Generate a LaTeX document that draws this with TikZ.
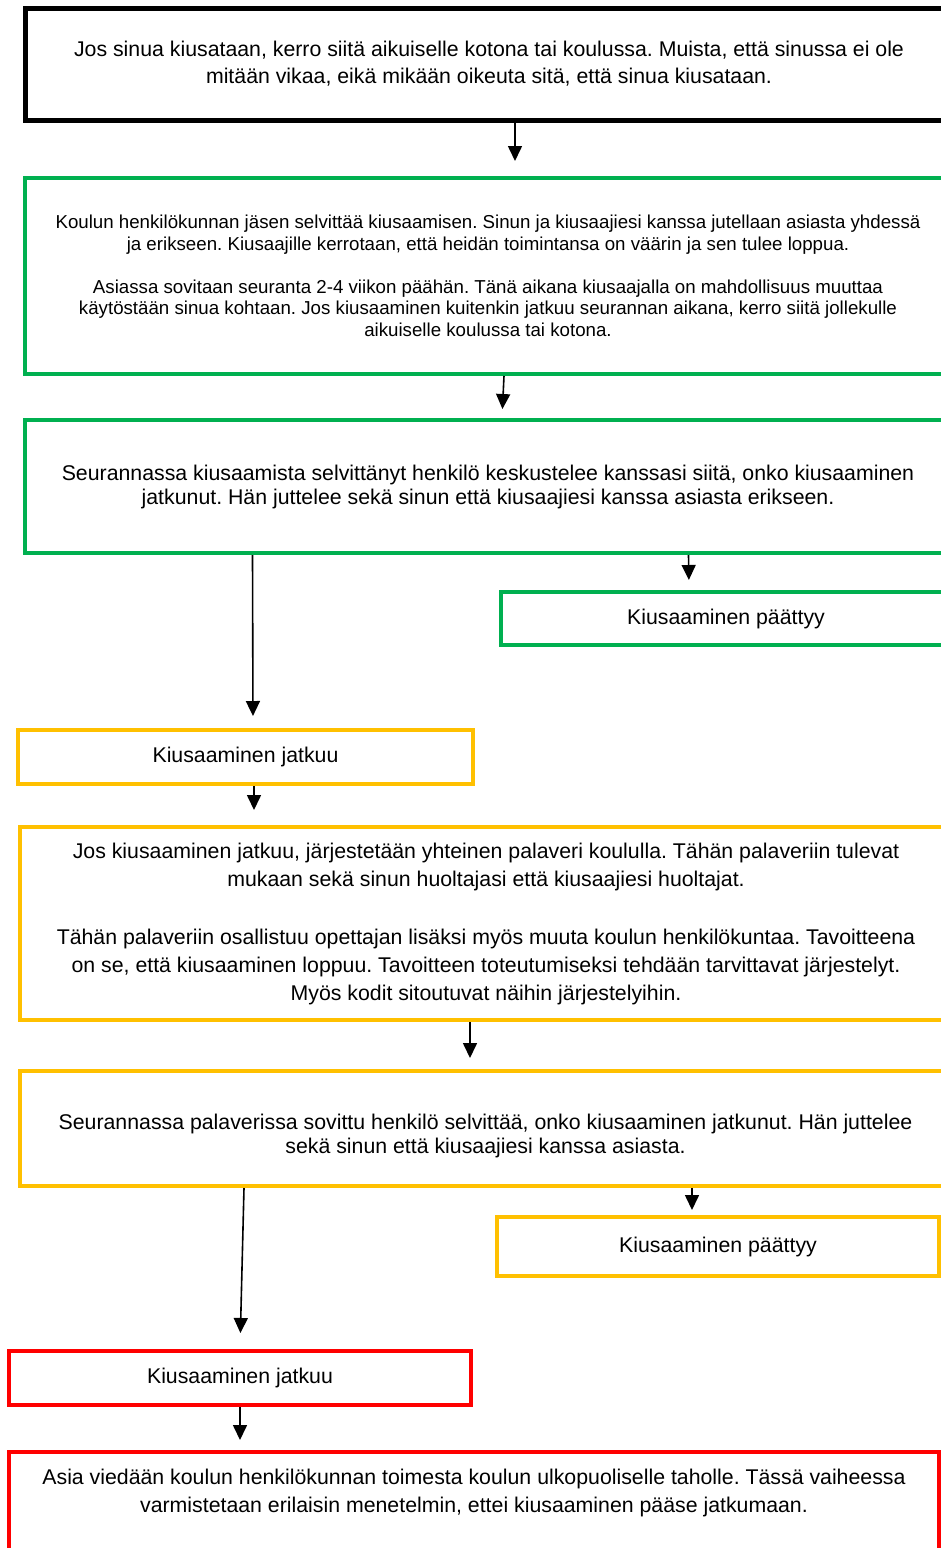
\documentclass[tikz,border=0pt]{standalone}
\usepackage{fontspec}
\setmainfont{Liberation Sans}
\usetikzlibrary{arrows.meta}

\definecolor{vihrea}{RGB}{0,176,80}
\definecolor{keltainen}{RGB}{255,192,0}
\definecolor{punainen}{RGB}{255,0,0}

\def\isoteksti{\fontsize{21.3pt}{27pt}\selectfont}
\frenchspacing

\begin{document}
\begin{tikzpicture}[x=1pt, y=-1pt]
        \tikzstyle{box}=[rectangle, draw, align=center, inner sep=0pt, line width=4pt]
        \tikzstyle{musta}=[box, draw=black, line width=5pt]
        \tikzstyle{vihrea}=[box, draw=vihrea]
        \tikzstyle{keltainen}=[box, draw=keltainen]
        \tikzstyle{punainen}=[box, draw=punainen]
        \tikzstyle{link}=[-{Triangle[length=15pt,width=14pt]}, line width=1.6pt]

        \useasboundingbox (0,0) rectangle (941,1548);
        \clip (0,0) rectangle (941,1548);

        \node[musta, minimum width=928pt, minimum height=112pt, font=\isoteksti] (alku) at (489,64)
            {Jos sinua kiusataan, kerro siitä aikuiselle kotona tai koulussa. Muista, että sinussa ei ole\\
             mitään vikaa, eikä mikään oikeuta sitä, että sinua kiusataan.};

        \node[vihrea, minimum width=926pt, minimum height=196pt, font=\fontsize{18.7pt}{21.5pt}\selectfont] (selvitys) at (488,276)
            {Koulun henkilökunnan jäsen selvittää kiusaamisen. Sinun ja kiusaajiesi kanssa jutellaan asiasta yhdessä\\
             ja erikseen. Kiusaajille kerrotaan, että heidän toimintansa on väärin ja sen tulee loppua.\\[21.5pt]
             Asiassa sovitaan seuranta 2-4 viikon päähän. Tänä aikana kiusaajalla on mahdollisuus muuttaa\\
             käytöstään sinua kohtaan. Jos kiusaaminen kuitenkin jatkuu seurannan aikana, kerro siitä jollekulle\\
             aikuiselle koulussa tai kotona.};

        \node[vihrea, minimum width=926pt, minimum height=133pt, font=\fontsize{21.3pt}{24pt}\selectfont] (seuranta1) at (488,486.5)
            {Seurannassa kiusaamista selvittänyt henkilö keskustelee kanssasi siitä, onko kiusaaminen\\
             jatkunut. Hän juttelee sekä sinun että kiusaajiesi kanssa asiasta erikseen.};

        \node[vihrea, minimum width=450pt, minimum height=53pt, font=\isoteksti] (loppu1) at (726,618.5) {Kiusaaminen päättyy};

        \node[keltainen, minimum width=455pt, minimum height=54pt, font=\isoteksti] (jatkuu1) at (245.5,757) {Kiusaaminen jatkuu};

        \node[keltainen, minimum width=932pt, minimum height=193pt, font=\fontsize{21.3pt}{28pt}\selectfont] (palaveri) at (486,923.5)
            {Jos kiusaaminen jatkuu, järjestetään yhteinen palaveri koululla. Tähän palaveriin tulevat\\
             mukaan sekä sinun huoltajasi että kiusaajiesi huoltajat.\\[30pt]
             Tähän palaveriin osallistuu opettajan lisäksi myös muuta koulun henkilökuntaa. Tavoitteena\\
             on se, että kiusaaminen loppuu. Tavoitteen toteutumiseksi tehdään tarvittavat järjestelyt.\\
             Myös kodit sitoutuvat näihin järjestelyihin.};

        \node[keltainen, minimum width=931pt, minimum height=115pt, font=\fontsize{21.3pt}{24pt}\selectfont] (seuranta2) at (485.5,1128.5)
            {\rule{0pt}{30pt}Seurannassa palaverissa sovittu henkilö selvittää, onko kiusaaminen jatkunut. Hän juttelee\\
             sekä sinun että kiusaajiesi kanssa asiasta.};

        \node[keltainen, minimum width=442pt, minimum height=59pt, font=\isoteksti] (loppu2) at (718,1246.5) {Kiusaaminen päättyy};

        \node[punainen, minimum width=462pt, minimum height=54pt, font=\isoteksti] (jatkuu2) at (240,1378) {Kiusaaminen jatkuu};

        \node[punainen, minimum width=930pt, anchor=north, inner ysep=17pt, font=\fontsize{21.3pt}{28pt}\selectfont] (ulkopuoli) at (474,1450)
            {Asia viedään koulun henkilökunnan toimesta koulun ulkopuoliselle taholle. Tässä vaiheessa\\
             varmistetaan erilaisin menetelmin, ettei kiusaaminen pääse jatkumaan.\\[60pt]\mbox{}};

        \path[link]
            ([xshift=26pt]alku.south) edge[shorten >=15pt] ([xshift=27pt]selvitys.north)
            ([xshift=16pt]selvitys.south) edge[shorten >=9pt] ([xshift=14pt]seuranta1.north)
            ([xshift=200.5pt]seuranta1.south) edge[shorten >=10pt] ([xshift=-37pt]loppu1.north)
            ([xshift=-235.5pt]seuranta1.south) edge[shorten >=12pt] ([xshift=7.5pt]jatkuu1.north)
            ([xshift=8.5pt]jatkuu1.south) edge[shorten >=15pt] ([xshift=-232pt]palaveri.north)
            ([xshift=-16pt]palaveri.south) edge[shorten >=11pt] ([xshift=-15.5pt]seuranta2.north)
            ([xshift=206.5pt]seuranta2.south) edge[shorten >=5pt] ([xshift=-26pt]loppu2.north)
            ([xshift=-241.5pt]seuranta2.south) edge[shorten >=16pt] (jatkuu2.north)
            (jatkuu2.south) edge[shorten >=10pt] ([xshift=-234pt]ulkopuoli.north)
        ;
\end{tikzpicture}
\end{document}
